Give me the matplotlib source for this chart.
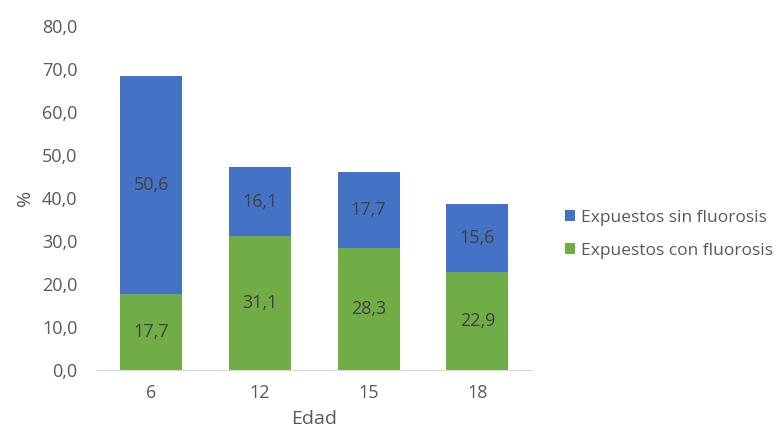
import matplotlib.pyplot as plt
import numpy as np

edades = ['6', '12', '15', '18']
con_fluorosis = [17.7, 31.1, 28.3, 22.9]
sin_fluorosis = [50.6, 16.1, 17.7, 15.6]

plt.rcParams['font.family'] = ['Open Sans', 'DejaVu Sans']

fig = plt.figure(figsize=(7.82, 4.34), dpi=100)
ax = fig.add_axes([0.124, 0.1475, 0.556, 0.7925])

x = np.arange(len(edades))
w = 0.57
verde = '#70AD47'
azul = '#4472C4'
b1 = ax.bar(x, con_fluorosis, w, color=verde, label='Expuestos con fluorosis', zorder=2)
b2 = ax.bar(x, sin_fluorosis, w, bottom=con_fluorosis, color=azul,
            label='Expuestos sin fluorosis', zorder=2)

for i in range(len(x)):
    ax.text(x[i], con_fluorosis[i] / 2, f'{con_fluorosis[i]:.1f}'.replace('.', ','),
            ha='center', va='center', fontsize=13, color='#404040')
    ax.text(x[i], con_fluorosis[i] + sin_fluorosis[i] / 2,
            f'{sin_fluorosis[i]:.1f}'.replace('.', ','),
            ha='center', va='center', fontsize=13, color='#404040')

ax.set_xlim(-0.5, 3.5)
ax.set_ylim(0, 80)
ax.set_yticks(np.arange(0, 81, 10))
ax.set_yticklabels([f'{v:.1f}'.replace('.', ',') for v in np.arange(0, 81, 10)])
ax.set_xticks(x)
ax.set_xticklabels(edades)
ax.tick_params(length=0, labelsize=13, colors='#595959')
ax.tick_params(axis='x', pad=10)
ax.tick_params(axis='y', pad=14)
for s in ['top', 'right', 'left']:
    ax.spines[s].set_visible(False)
ax.spines['bottom'].set_color('#D9D9D9')
ax.set_xlabel('Edad', fontsize=14, color='#595959', labelpad=6)
ax.set_ylabel('%', fontsize=14, color='#595959', labelpad=6)

handles = [b2, b1]
fig.legend(handles, [h.get_label() for h in handles], loc='center left',
           bbox_to_anchor=(0.722, 0.46), frameon=False, fontsize=12.5,
           labelcolor='#595959', handlelength=0.6, handleheight=0.6,
           handletextpad=0.35, labelspacing=1.0, borderaxespad=0, borderpad=0)

fig.savefig('out.png', dpi=100)
